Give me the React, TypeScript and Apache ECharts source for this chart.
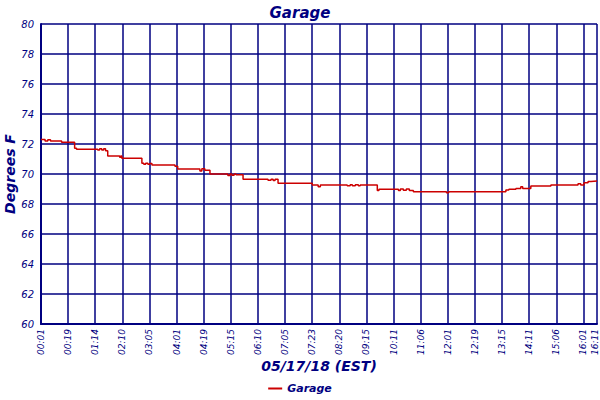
import React, { useEffect, useRef } from "react";
import * as echarts from "echarts";

// x positions are in sample units: 10 samples between two time labels
const timeLabels = [
  "00:01", "00:19", "01:14", "02:10", "03:05", "04:01", "04:19", "05:15",
  "06:10", "07:05", "07:23", "08:20", "09:15", "10:11", "11:06", "12:01",
  "12:19", "13:15", "14:11", "15:06", "16:01",
];
const lastLabel = "16:11";
const lastSample = 205;

// step changes of the garage temperature: [sample, degrees F]
const garageTemps: [number, number][] = [
  [0, 72.3], [1.5, 72.2], [2.5, 72.28], [3.5, 72.2], [7.6, 72.12],
  [12.4, 71.72], [13.1, 71.65], [20.9, 71.6], [21.6, 71.68], [22.4, 71.6],
  [23.1, 71.68], [23.8, 71.55], [24.6, 71.2], [29, 71.12], [29.4, 71.2],
  [29.8, 71.05], [37.2, 70.72], [37.9, 70.65], [38.6, 70.72], [39.4, 70.65],
  [40.1, 70.7], [40.9, 70.6], [49.4, 70.52], [50.4, 70.33], [58.6, 70.2],
  [59.3, 70.35], [60.4, 70.25], [62.3, 70.0], [68.9, 69.9], [69.7, 70.0],
  [70.4, 69.92], [71.2, 70.0], [71.9, 69.95], [74.5, 69.65], [83.7, 69.58],
  [84.8, 69.65], [85.6, 69.57], [86.3, 69.65], [87.4, 69.38], [100, 69.27],
  [102.2, 69.15], [103, 69.27], [112.9, 69.22], [114, 69.28], [114.8, 69.22],
  [115.9, 69.28], [117, 69.22], [117.7, 69.27], [124, 68.9], [124.6, 68.98],
  [131.8, 68.9], [132.5, 69.0], [133.6, 68.92], [134.7, 69.0], [135.8, 68.9],
  [137.3, 68.82], [149.5, 68.75], [150.3, 68.82], [171.4, 68.93], [172.5, 68.98],
  [175.1, 69.04], [176.9, 69.15], [177.6, 69.04], [180.6, 69.2], [188, 69.27],
  [198, 69.35], [199, 69.27], [200.2, 69.42], [201.7, 69.5], [202.8, 69.53],
  [205, 69.53],
];

const yTicks = [60, 62, 64, 66, 68, 70, 72, 74, 76, 78, 80];

const NAVY = "#000080";
const FONT = "DejaVu Sans";

const App: React.FC = () => {
  const chartRef = useRef<HTMLDivElement>(null);

  useEffect(() => {
    if (!chartRef.current) return;
    const chart = echarts.init(chartRef.current, undefined, { renderer: "svg" });
    chart.setOption({
      animation: false,
      backgroundColor: "#ffffff",
      title: {
        text: "Garage",
        left: "center",
        top: 0,
        textStyle: {
          color: NAVY,
          fontFamily: FONT,
          fontStyle: "italic",
          fontWeight: "bold",
          fontSize: 15,
        },
      },
      legend: {
        bottom: 1,
        left: "center",
        itemWidth: 14,
        itemHeight: 2,
        itemGap: 4,
        icon: "rect",
        textStyle: {
          color: NAVY,
          fontFamily: FONT,
          fontStyle: "italic",
          fontWeight: "bold",
          fontSize: 11,
        },
        data: ["Garage"],
      },
      grid: {
        left: 41,
        right: 3,
        top: 24,
        bottom: 76,
        containLabel: false,
        outerBoundsMode: "none",
      },
      xAxis: {
        type: "value",
        min: 0,
        max: lastSample,
        interval: 10,
        name: "05/17/18 (EST)",
        nameLocation: "middle",
        nameGap: 35,
        nameMoveOverlap: false,
        nameTextStyle: {
          color: NAVY,
          fontFamily: FONT,
          fontStyle: "italic",
          fontWeight: "bold",
          fontSize: 14,
        },
        axisLine: { show: true, lineStyle: { color: NAVY, width: 2 } },
        axisTick: { show: false },
        splitLine: { show: true, lineStyle: { color: NAVY, width: 1.5 } },
        // the rotated time labels are drawn below as graphic texts
        axisLabel: { show: false },
      },
      yAxis: {
        type: "value",
        min: yTicks[0],
        max: yTicks[yTicks.length - 1],
        interval: 2,
        name: "Degrees F",
        nameLocation: "middle",
        nameGap: 24,
        nameMoveOverlap: false,
        nameTextStyle: {
          color: NAVY,
          fontFamily: FONT,
          fontStyle: "italic",
          fontWeight: "bold",
          fontSize: 14,
        },
        axisLine: { show: true, lineStyle: { color: NAVY, width: 2 } },
        axisTick: { show: false },
        splitLine: { show: true, lineStyle: { color: NAVY, width: 1.5 } },
        axisLabel: {
          color: NAVY,
          fontFamily: FONT,
          fontStyle: "italic",
          fontSize: 10,
          margin: 7,
        },
      },
      series: [
        {
          name: "Garage",
          type: "line",
          step: "end",
          data: garageTemps,
          showSymbol: false,
          color: "#cc0000",
          lineStyle: { color: "#cc0000", width: 1.5 },
        },
      ],
    });

    const ticks = timeLabels
      .map((t, i) => ({ v: i * 10, t }))
      .concat([{ v: lastSample, t: lastLabel }]);
    chart.setOption({
      graphic: ticks.map(({ v, t }) => {
        const [px, py] = chart.convertToPixel({ gridIndex: 0 }, [v, yTicks[0]]);
        return {
          type: "group",
          x: Math.min(px, 595),
          y: py + 5,
          rotation: Math.PI / 2,
          children: [
            {
              type: "text",
              x: 0,
              y: 0,
              style: {
                text: t,
                align: "right",
                verticalAlign: "middle",
                fill: NAVY,
                fontFamily: FONT,
                fontStyle: "italic",
                fontSize: 9,
              },
            },
          ],
        };
      }),
    });
    return () => chart.dispose();
  }, []);

  return (
    <div
      ref={chartRef}
      style={{ width: 600, height: 400, position: "absolute", left: 0, top: 0 }}
    />
  );
};

export default App;
